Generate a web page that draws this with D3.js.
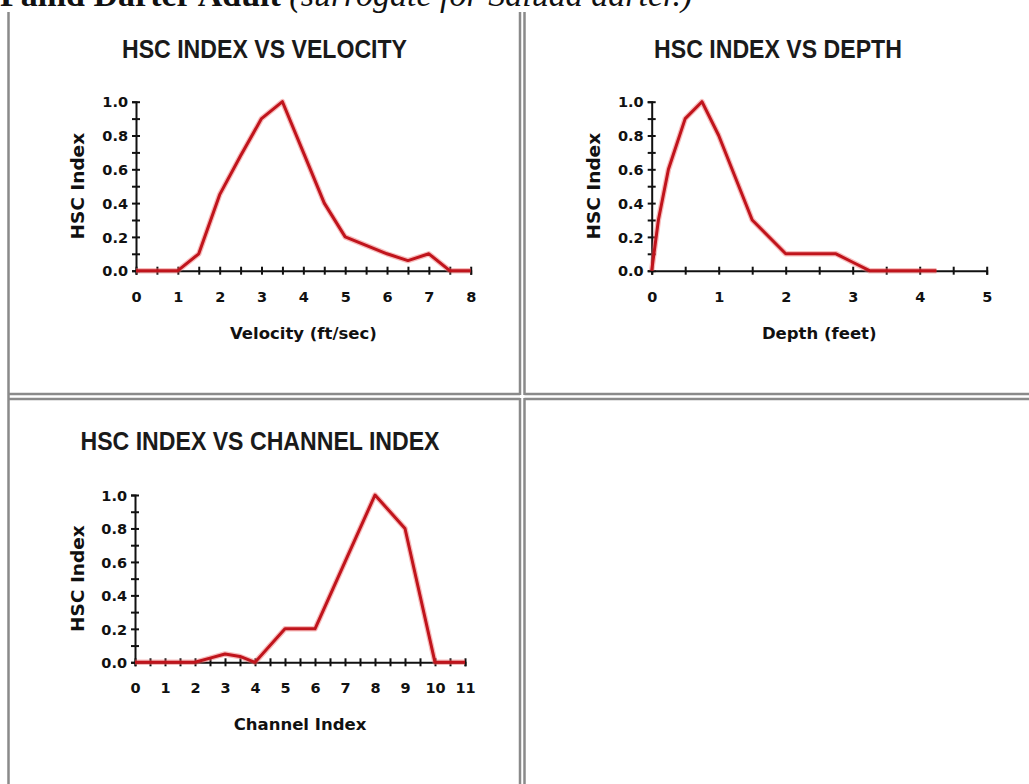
<!DOCTYPE html>
<html>
<head>
<meta charset="utf-8">
<script src="https://cdn.jsdelivr.net/npm/d3@7"></script>
<style>
  html, body { margin: 0; padding: 0; background: #ffffff; }
  svg { display: block; }
</style>
</head>
<body>
<script>
// Habitat suitability (HSC) curves
const velocityX   = [0, 0.5, 1, 1.5, 2, 2.5, 3, 3.5, 4, 4.5, 5, 5.5, 6, 6.5, 7, 7.5, 8];
const velocityHSC = [0, 0, 0, 0.1, 0.45, 0.68, 0.9, 1.0, 0.7, 0.4, 0.2, 0.15, 0.1, 0.06, 0.1, 0, 0];

const depthX   = [0, 0.1, 0.25, 0.5, 0.75, 1, 1.5, 2, 2.75, 3, 3.25, 3.5, 4, 4.25];
const depthHSC = [0, 0.3, 0.6, 0.9, 1.0, 0.8, 0.3, 0.1, 0.1, 0.05, 0, 0, 0, 0];

const channelX   = [0, 1, 2, 2.5, 3, 3.5, 4, 5, 6, 7, 8, 9, 10, 11];
const channelHSC = [0, 0, 0, 0.025, 0.05, 0.035, 0, 0.2, 0.2, 0.6, 1.0, 0.8, 0, 0];

// Axis ticks (labels only on the whole numbers / even tenths)
const hscTicks      = [0, 0.1, 0.2, 0.3, 0.4, 0.5, 0.6, 0.7, 0.8, 0.9, 1.0];
const hscLabels     = ["0.0", "", "0.2", "", "0.4", "", "0.6", "", "0.8", "", "1.0"];
const velocityTicks = [0, 0.5, 1, 1.5, 2, 2.5, 3, 3.5, 4, 4.5, 5, 5.5, 6, 6.5, 7, 7.5, 8];
const depthTicks    = [0, 0.5, 1, 1.5, 2, 2.5, 3, 3.5, 4, 4.5, 5];
const channelTicks  = [0, 0.5, 1, 1.5, 2, 2.5, 3, 3.5, 4, 4.5, 5, 5.5, 6, 6.5, 7, 7.5, 8, 8.5, 9, 9.5, 10, 10.5, 11];

const W = 1029, H = 784;
const svg = d3.select("body").append("svg").attr("width", W).attr("height", H);
svg.append("rect").attr("width", W).attr("height", H).attr("fill", "#ffffff");

// Page heading (scrolled mostly out of view at the top)
const head = svg.append("text")
  .attr("x", 0).attr("y", 6)
  .style("font-family", "'Liberation Serif', 'Times New Roman', serif")
  .style("font-size", "34px")
  .attr("fill", "#111");
head.append("tspan").style("font-weight", "bold").text("Pallid Darter Adult ");
head.append("tspan").style("font-style", "italic").text("(surrogate for Saluda darter.)");

// Table cell borders
const borderColor = "#8a8a8a";
function seg(x1, y1, x2, y2) {
  svg.append("line").attr("x1", x1).attr("y1", y1).attr("x2", x2).attr("y2", y2)
    .attr("stroke", borderColor).attr("stroke-width", 2.5);
}
seg(8.5, 12, 8.5, H);          // left edge
seg(520, 12, 520, 395);        // top-left cell, right edge
seg(524.5, 12, 524.5, 395);    // top-right cell, left edge
seg(520, 398, 520, H);         // bottom-left cell, right edge
seg(524.5, 398, 524.5, H);     // bottom-right cell, left edge
seg(8.5, 394, 520, 394);       // top row, bottom edges
seg(524.5, 394, W, 394);
seg(8.5, 399, 520, 399);       // bottom row, top edges
seg(524.5, 399, W, 399);

const tickFont  = "'DejaVu Sans', Verdana, sans-serif";
const titleFont = "'Liberation Sans', Arial, sans-serif";

function drawPanel(p) {
  const x = d3.scaleLinear().domain([p.xTicks[0], p.xTicks[p.xTicks.length - 1]]).range(p.xRange);
  const y = d3.scaleLinear().domain([0, 1]).range(p.yRange);
  const g = svg.append("g");

  // panel title, in a narrow bold face
  g.append("text")
    .attr("transform", `translate(${p.titleX},${p.titleY}) scale(0.872,1)`)
    .attr("text-anchor", "middle")
    .style("font-family", titleFont)
    .style("font-weight", "bold")
    .style("font-size", "26.5px")
    .attr("fill", "#1a1a1a")
    .text(p.title);

  // x axis
  const gx = g.append("g")
    .attr("transform", `translate(0,${y(0)})`)
    .call(d3.axisBottom(x)
      .tickValues(p.xTicks)
      .tickFormat(d => Number.isInteger(d) ? String(d) : "")
      .tickSizeOuter(0)
      .tickSize(4));
  gx.select(".domain").attr("stroke", "#111").attr("stroke-width", 2);
  gx.selectAll(".tick line").attr("y1", -4).attr("y2", 4).attr("stroke", "#111").attr("stroke-width", 2);
  gx.selectAll(".tick text")
    .attr("y", 31).attr("dy", 0)
    .style("font-family", tickFont).style("font-weight", "bold").style("font-size", "14.5px")
    .attr("fill", "#111");

  // y axis
  const gy = g.append("g")
    .attr("transform", `translate(${x(0)},0)`)
    .call(d3.axisLeft(y)
      .tickValues(hscTicks)
      .tickFormat((d, i) => hscLabels[i])
      .tickSizeOuter(0)
      .tickSize(4));
  gy.select(".domain").attr("stroke", "#111").attr("stroke-width", 2);
  gy.selectAll(".tick line").attr("x1", -4).attr("x2", 4).attr("stroke", "#111").attr("stroke-width", 2);
  gy.selectAll(".tick text")
    .attr("x", -8).attr("dy", "0.36em")
    .style("font-family", tickFont).style("font-weight", "bold").style("font-size", "14.5px")
    .attr("fill", "#111");

  // axis titles
  const xMid = (p.xRange[0] + p.xRange[1]) / 2;
  const yMid = (p.yRange[0] + p.yRange[1]) / 2;
  g.append("text")
    .attr("x", xMid).attr("y", y(0) + 68)
    .attr("text-anchor", "middle")
    .style("font-family", tickFont).style("font-weight", "bold").style("font-size", "16.5px")
    .attr("fill", "#111")
    .text(p.xTitle);
  g.append("text")
    .attr("transform", `translate(${p.yTitleX},${yMid}) rotate(-90)`)
    .attr("text-anchor", "middle")
    .attr("dy", "0.36em")
    .style("font-family", tickFont).style("font-weight", "bold").style("font-size", "18.5px")
    .attr("fill", "#111")
    .text("HSC Index");

  // curve: soft halo under a solid core
  const pts = d3.zip(p.xs, p.ys);
  const line = d3.line().x(d => x(d[0])).y(d => y(d[1]));
  g.append("path").datum(pts).attr("d", line)
    .attr("fill", "none").attr("stroke", "#ee6a6a").attr("stroke-opacity", 0.45)
    .attr("stroke-width", 5.5).attr("stroke-linejoin", "round");
  g.append("path").datum(pts).attr("d", line)
    .attr("fill", "none").attr("stroke", "#c0141c")
    .attr("stroke-width", 3).attr("stroke-linejoin", "round");
}

drawPanel({
  title: "HSC INDEX VS VELOCITY", titleX: 264.5, titleY: 58,
  xTitle: "Velocity (ft/sec)", xTicks: velocityTicks,
  xRange: [136, 470.7], yRange: [270.7, 101.7], yTitleX: 77,
  xs: velocityX, ys: velocityHSC
});
drawPanel({
  title: "HSC INDEX VS DEPTH", titleX: 778, titleY: 58,
  xTitle: "Depth (feet)", xTicks: depthTicks,
  xRange: [651.7, 986.7], yRange: [270.7, 101.7], yTitleX: 593,
  xs: depthX, ys: depthHSC
});
drawPanel({
  title: "HSC INDEX VS CHANNEL INDEX", titleX: 260, titleY: 450,
  xTitle: "Channel Index", xTicks: channelTicks,
  xRange: [135, 465], yRange: [662.3, 495], yTitleX: 77,
  xs: channelX, ys: channelHSC
});
</script>
</body>
</html>
